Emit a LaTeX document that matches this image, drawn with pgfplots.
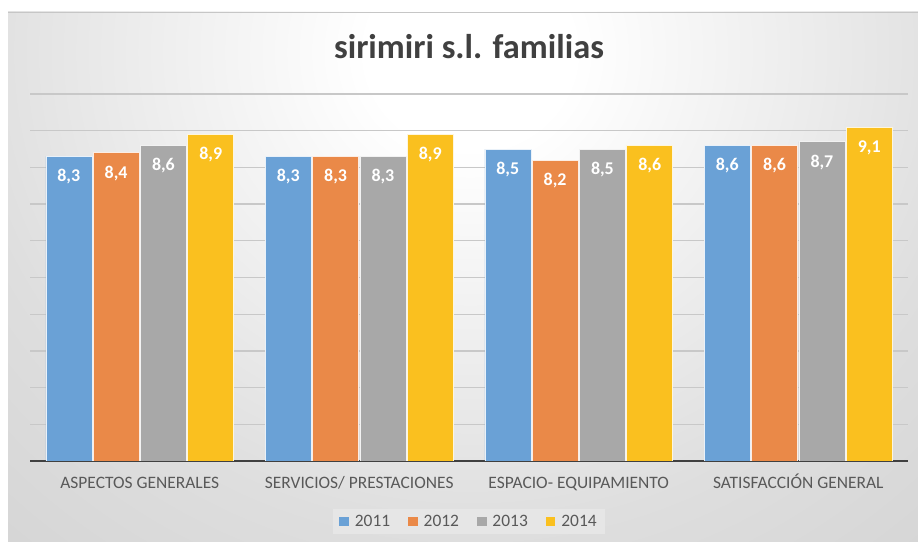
\documentclass[border=0pt]{standalone}
\usepackage{pgfplots}
\pgfplotsset{compat=1.18}
\usepackage{fontspec}
\setmainfont{Carlito}
\definecolor{c11}{RGB}{106,161,214}
\definecolor{c12}{RGB}{234,137,72}
\definecolor{c13}{RGB}{168,168,168}
\definecolor{c14}{RGB}{250,192,31}
\definecolor{bgmid}{RGB}{222,222,222}
\definecolor{bgout}{RGB}{188,188,188}
\definecolor{titlec}{RGB}{64,64,64}
\definecolor{labc}{RGB}{89,89,89}
\definecolor{gridc}{RGB}{200,200,200}
\definecolor{legbg}{RGB}{230,230,230}
\pgfdeclareradialshading{bgshade}{\pgfpoint{0bp}{0bp}}{color(0bp)=(white); color(4bp)=(white); color(20bp)=(bgmid); color(50bp)=(bgout)}
\begin{document}
\begin{tikzpicture}
\useasboundingbox (0bp,0bp) rectangle (918bp,542bp);
\fill[white] (0bp,0bp) rectangle (918bp,542bp);
\begin{scope}
\clip (8bp,0bp) rectangle (918bp,530bp);
\shade[shading=bgshade] (-170bp,-110bp) rectangle (1110bp,1090bp);
\end{scope}
\draw[gray!45, line width=0.8bp] (8bp,530bp) -- (918bp,530bp);
\node[font=\fontsize{34.5}{40}\selectfont\bfseries, text=titlec, anchor=base, inner sep=0pt] at (469bp,483.7bp) {sirimiri s.l. familias};
\begin{axis}[
  at={(30bp,81bp)}, anchor=south west, scale only axis,
  width=878bp, height=367bp,
  ymin=0, ymax=10, xmin=-0.5, xmax=3.5,
  ybar=1.3bp, bar width=46bp,
  ytick={0,1,...,10}, yticklabels={},
  xtick={0,1,2,3},
  xticklabels={ASPECTOS GENERALES, SERVICIOS/ PRESTACIONES, ESPACIO- EQUIPAMIENTO, SATISFACCIÓN GENERAL},
  xticklabel style={anchor=base, yshift=-28bp, font=\fontsize{17.5}{20}\selectfont, text=labc},
  major tick length=0pt,
  axis x line*=bottom, axis y line*=left,
  x axis line style={-, draw=titlec, line width=2.2bp},
  y axis line style={draw=none},
  ymajorgrids, grid style={draw=gridc, line width=1.3bp},
  /pgf/number format/assume math mode=true,
  nodes near coords,
  nodes near coords style={/pgf/number format/.cd, use comma, fixed, fixed zerofill, precision=1, /tikz/.cd, anchor=base, yshift=-25.5bp, text=white, font=\fontsize{18}{21}\selectfont\bfseries},
  legend style={at={(0.5,-0.1649)}, anchor=center, legend columns=4, draw=none, fill=legbg,
    font=\fontsize{17.5}{20}\selectfont, text=labc, inner xsep=6bp, inner ysep=4bp,
    /tikz/every odd column/.append style={column sep=4bp},
    /tikz/every even column/.append style={column sep=16bp}},
  legend image code/.code={\fill[#1, draw=none] (0bp,-4.5bp) rectangle (9.5bp,4.5bp);},
]
\addplot[fill=c11, draw=white!85!c11, line width=0.5bp] coordinates {(0,8.3) (1,8.3) (2,8.5) (3,8.6)};
\addplot[fill=c12, draw=white!85!c12, line width=0.5bp] coordinates {(0,8.4) (1,8.3) (2,8.2) (3,8.6)};
\addplot[fill=c13, draw=white!85!c13, line width=0.5bp] coordinates {(0,8.6) (1,8.3) (2,8.5) (3,8.7)};
\addplot[fill=c14, draw=white!85!c14, line width=0.5bp] coordinates {(0,8.9) (1,8.9) (2,8.6) (3,9.1)};
\legend{2011,2012,2013,2014}
\end{axis}
\end{tikzpicture}
\end{document}
